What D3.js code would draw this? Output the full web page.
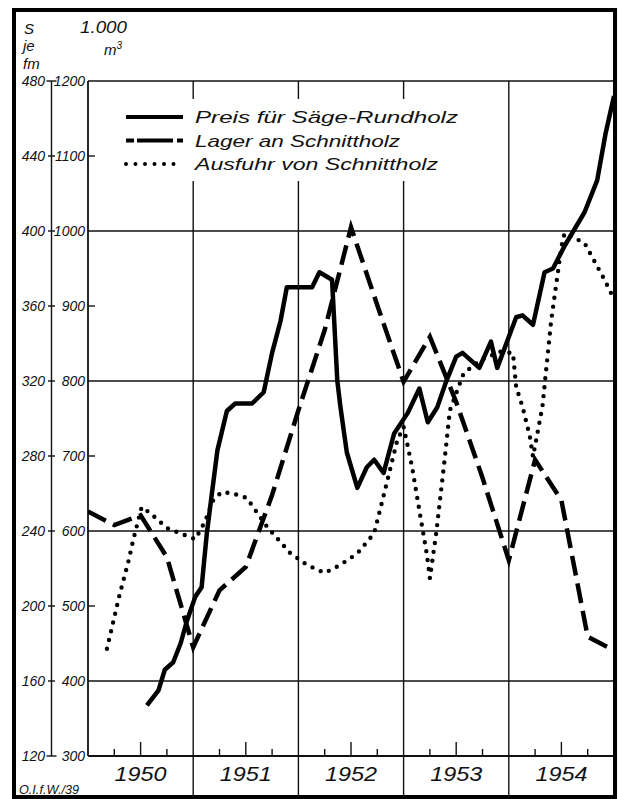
<!DOCTYPE html>
<html>
<head>
<meta charset="utf-8">
<script src="https://cdn.jsdelivr.net/npm/d3@7/dist/d3.min.js"></script>
<style>
	body { margin: 0; background: #fff; }
	svg text { font-family: 'Liberation Sans', Arial, sans-serif; font-style: italic; fill: #111; }
</style>
</head>
<body>
<svg id="chart" width="618" height="799"></svg>
<script>
// years on the x axis, one cell per year
const years = [1950, 1951, 1952, 1953, 1954]
// left scale: S je fm, right scale: 1.000 m3
const leftTicks = [480, 440, 400, 360, 320, 280, 240, 200, 160, 120]
const rightTicks = [1200, 1100, 1000, 900, 800, 700, 600, 500, 400, 300]
const legendLabels = ['Preis  für Säge-Rundholz', 'Lager an Schnittholz', 'Ausfuhr von Schnittholz']

// Preis für Säge-Rundholz (S je fm)
const preis = [
	[1950.56, 147], [1950.67, 155], [1950.73, 166], [1950.81, 170], [1950.88, 180],
	[1950.94, 192], [1951.02, 205], [1951.08, 210], [1951.13, 239], [1951.23, 283],
	[1951.32, 304], [1951.40, 308], [1951.56, 308], [1951.67, 314], [1951.75, 335],
	[1951.83, 352], [1951.89, 370], [1952.13, 370], [1952.20, 378], [1952.32, 374],
	[1952.37, 320], [1952.40, 306], [1952.46, 282], [1952.56, 263], [1952.65, 274],
	[1952.72, 278], [1952.81, 271], [1952.91, 292], [1953.04, 303], [1953.15, 316],
	[1953.23, 298], [1953.32, 306], [1953.40, 319], [1953.50, 333], [1953.56, 335],
	[1953.72, 327], [1953.83, 341], [1953.89, 327], [1953.97, 339], [1954.07, 354],
	[1954.13, 355], [1954.23, 350], [1954.34, 378], [1954.42, 380], [1954.53, 392],
	[1954.72, 410], [1954.84, 427], [1954.92, 452], [1955.00, 472]
]

// Lager an Schnittholz (1.000 m3), quarterly
const lager = [
	[1950.00, 626], [1950.25, 608], [1950.50, 621], [1950.75, 565], [1951.00, 445],
	[1951.25, 521], [1951.50, 552], [1951.75, 648], [1952.00, 761], [1952.25, 868],
	[1952.50, 1005], [1952.75, 901], [1953.00, 799], [1953.25, 859], [1953.50, 772],
	[1953.75, 671], [1954.00, 561], [1954.25, 695], [1954.50, 641], [1954.75, 459],
	[1955.00, 441]
]

// Ausfuhr von Schnittholz (1.000 m3)
const ausfuhr = [
	[1950.18, 443], [1950.30, 515], [1950.38, 557], [1950.43, 588], [1950.51, 632],
	[1950.59, 624], [1950.75, 604], [1951.02, 589], [1951.11, 612], [1951.19, 641],
	[1951.27, 652], [1951.38, 650], [1951.51, 644], [1951.57, 632], [1951.70, 606],
	[1951.92, 571], [1952.08, 555], [1952.25, 544], [1952.40, 555], [1952.56, 570],
	[1952.72, 597], [1952.84, 664], [1952.94, 721], [1953.00, 739], [1953.08, 686],
	[1953.16, 619], [1953.22, 570], [1953.25, 537], [1953.31, 597], [1953.39, 695],
	[1953.44, 761], [1953.57, 810], [1953.73, 828], [1953.92, 839], [1954.04, 837],
	[1954.07, 792], [1954.13, 766], [1954.20, 726], [1954.23, 699], [1954.32, 766],
	[1954.40, 877], [1954.50, 979], [1954.53, 997], [1954.72, 984], [1954.91, 935],
	[1954.99, 912]
]

const svg = d3.select('#chart')
const plot = { left: 88, right: 614, top: 81, bottom: 756 }

const x = d3.scaleLinear().domain([1950, 1955]).range([plot.left, plot.right])
const y = d3.scaleLinear().domain([300, 1200]).range([plot.bottom, plot.top])
const yS = d3.scaleLinear().domain([120, 480]).range([plot.bottom, plot.top])

svg.append('rect').attr('width', 618).attr('height', 799).attr('fill', '#fff')

const grid = svg.append('g').attr('stroke', '#111').attr('stroke-width', 1.4)

// horizontal grid every 200, plus top and bottom
grid.selectAll('line.h')
	.data(rightTicks.filter((d) => d % 200 === 0 || d === 300))
	.join('line')
	.attr('x1', plot.left)
	.attr('x2', plot.right)
	.attr('y1', (d) => y(d))
	.attr('y2', (d) => y(d))
	.attr('stroke-width', (d) => (d === 300 ? 1.8 : 1.4))

// small ticks on the plot edge for the odd hundreds
grid.selectAll('line.minor')
	.data(rightTicks.filter((d) => d % 200 !== 0 && d !== 300))
	.join('line')
	.attr('x1', plot.left)
	.attr('x2', plot.left + 7)
	.attr('y1', (d) => y(d))
	.attr('y2', (d) => y(d))

// year boundaries run down through the label row
grid.selectAll('line.v')
	.data(years.slice(1))
	.join('line')
	.attr('x1', (d) => x(d))
	.attr('x2', (d) => x(d))
	.attr('y1', plot.top)
	.attr('y2', 797)

grid.append('line')
	.attr('x1', plot.left).attr('x2', plot.left)
	.attr('y1', plot.top).attr('y2', plot.bottom)
	.attr('stroke-width', 1.8)

// quarter ticks on the time axis
const quarters = years.flatMap((yr) => [0.25, 0.5, 0.75].map((q) => ({ t: yr + q, big: q === 0.5 })))
grid.selectAll('line.q')
	.data(quarters)
	.join('line')
	.attr('x1', (d) => x(d.t))
	.attr('x2', (d) => x(d.t))
	.attr('y1', plot.bottom)
	.attr('y2', (d) => plot.bottom - (d.big ? 14 : 7))

// left double scale
const axisX = 51.5
grid.append('line')
	.attr('x1', axisX).attr('x2', axisX)
	.attr('y1', plot.top).attr('y2', plot.bottom)

grid.selectAll('line.cross')
	.data(rightTicks)
	.join('line')
	.attr('x1', (d, i) => (i === 0 || i === rightTicks.length - 1 ? axisX - 5 : axisX - 3.5))
	.attr('x2', (d, i) => (i === 0 || i === rightTicks.length - 1 ? axisX + 5 : axisX + 3.5))
	.attr('y1', (d) => y(d))
	.attr('y2', (d) => y(d))

svg.selectAll('text.left')
	.data(leftTicks)
	.join('text')
	.attr('class', 'left')
	.attr('x', 45)
	.attr('y', (d) => yS(d) + 5)
	.attr('text-anchor', 'end')
	.style('font-size', '14px')
	.text((d) => d)

svg.selectAll('text.right')
	.data(rightTicks)
	.join('text')
	.attr('class', 'right')
	.attr('x', 85)
	.attr('y', (d) => y(d) + 5)
	.attr('text-anchor', 'end')
	.style('font-size', '14px')
	.text((d) => d)

// unit labels
const units = svg.append('g').style('font-size', '15px')
units.append('text').attr('x', 24).attr('y', 34).text('S')
units.append('text').attr('x', 23).attr('y', 51).text('je')
units.append('text').attr('x', 23).attr('y', 69).text('fm')
units.append('text').attr('x', 80).attr('y', 33)
	.attr('textLength', 47).attr('lengthAdjust', 'spacingAndGlyphs')
	.style('font-size', '17px').text('1.000')
units.append('text').attr('x', 104).attr('y', 55).html('m<tspan dy="-6" style="font-size:10px">3</tspan>')

// year labels, centred in each cell
svg.selectAll('text.year')
	.data(years)
	.join('text')
	.attr('class', 'year')
	.attr('x', (d) => x(d + 0.5) - 26)
	.attr('y', 781)
	.attr('textLength', 52)
	.attr('lengthAdjust', 'spacingAndGlyphs')
	.style('font-size', '21px')
	.text((d) => d)

svg.append('text')
	.attr('x', 19).attr('y', 794)
	.attr('textLength', 60)
	.attr('lengthAdjust', 'spacingAndGlyphs')
	.style('font-size', '12px')
	.text('O.I.f.W./39')

// series
svg.append('clipPath').attr('id', 'plotClip')
	.append('rect')
	.attr('x', plot.left).attr('y', plot.top)
	.attr('width', plot.right - plot.left).attr('height', plot.bottom - plot.top)

const lines = svg.append('g').attr('clip-path', 'url(#plotClip)').attr('fill', 'none').attr('stroke', '#000')

lines.append('path')
	.datum(ausfuhr)
	.attr('d', d3.line().x((d) => x(d[0])).y((d) => y(d[1])))
	.attr('stroke-width', 4.4)
	.attr('stroke-linecap', 'round')
	.attr('stroke-dasharray', '0 9')

lines.append('path')
	.datum(lager)
	.attr('d', d3.line().x((d) => x(d[0])).y((d) => y(d[1])))
	.attr('stroke-width', 4.5)
	.attr('stroke-dasharray', '20 8')

lines.append('path')
	.datum(preis)
	.attr('d', d3.line().x((d) => x(d[0])).y((d) => yS(d[1])))
	.attr('stroke-width', 4.5)
	.attr('stroke-linejoin', 'round')

// legend, on a white patch that interrupts the grid
const legend = svg.append('g')
legend.append('rect')
	.attr('x', 112).attr('y', 99).attr('width', 356).attr('height', 82)
	.attr('fill', '#fff')

const legendWidths = [263, 205, 243]
const legendDash = [null, '8 3 36 4 8', '0 9.5']
legendLabels.forEach((label, i) => {
	const ly = 117 + i * 23.5
	legend.append('line')
		.attr('x1', 126).attr('x2', 183)
		.attr('y1', ly).attr('y2', ly)
		.attr('stroke', '#000')
		.attr('stroke-width', i === 2 ? 4 : 4.2)
		.attr('stroke-linecap', i === 2 ? 'round' : 'butt')
		.attr('stroke-dasharray', legendDash[i])
	legend.append('text')
		.attr('x', 195).attr('y', ly + 6)
		.attr('textLength', legendWidths[i])
		.attr('lengthAdjust', 'spacingAndGlyphs')
		.style('font-size', '17px')
		.text(label)
})

// outer frame
svg.append('rect')
	.attr('x', 14).attr('y', 10).attr('width', 601).attr('height', 787)
	.attr('fill', 'none').attr('stroke', '#000').attr('stroke-width', 4)
</script>
</body>
</html>
